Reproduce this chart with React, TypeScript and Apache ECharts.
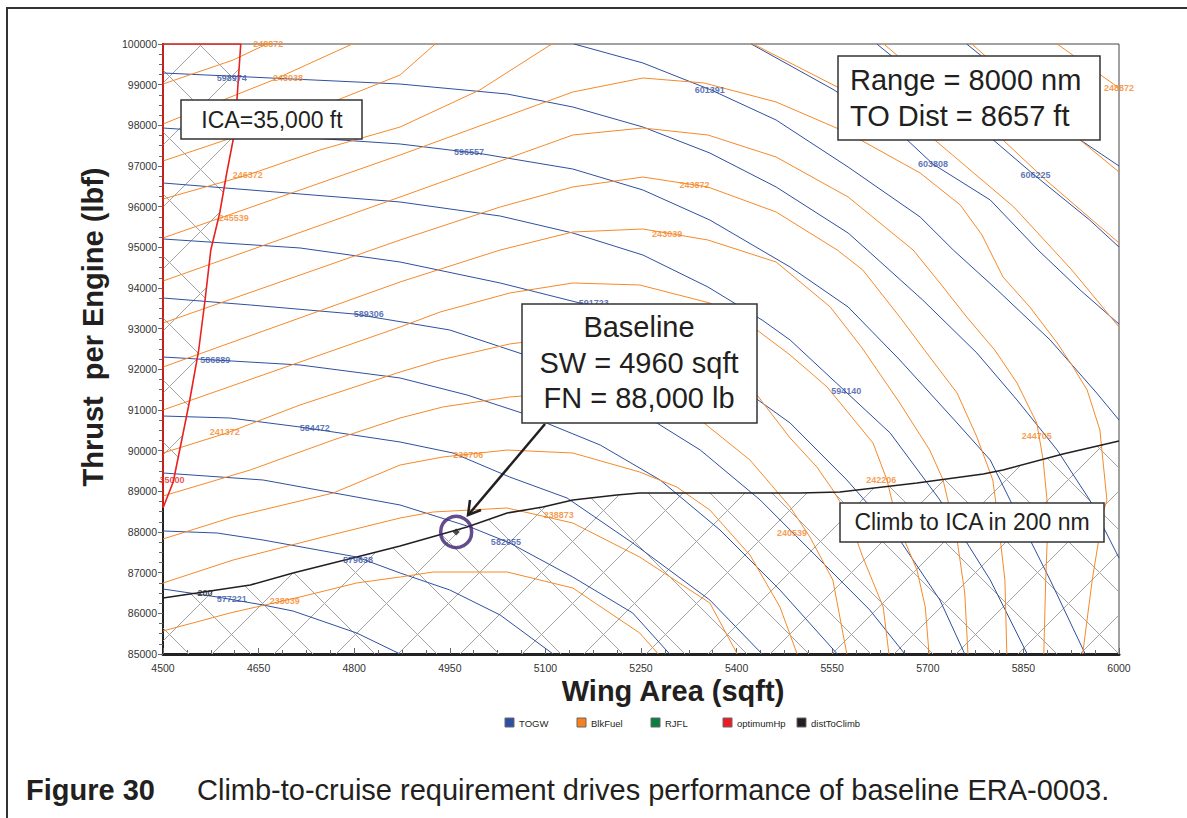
import React, { useEffect, useRef } from 'react';
import * as echarts from 'echarts';

const FONT = "'Liberation Sans', Arial, Helvetica, sans-serif";
const BLUE = '#2f4f9f';
const ORANGE = '#f58a2a';
const RED = '#e8231f';
const BLACK = '#231f20';
const HATCH = '#a3a3a3';

// Axes
const xMin = 4500, xMax = 6000, xStep = 150;
const yMin = 85000, yMax = 100000, yStep = 1000;

// Baseline design point
const baselineSW = 4960;
const baselineFN = 88000;

// TOGW contours [wing area, thrust]
const togw577221 = [[4500,86598],[4585,86402],[4657,86205],[4704,86057],[4804,85516],[4872,85000]];
const togw579638 = [[4500,88025],[4585,87975],[4657,87803],[4804,87385],[4872,86992],[4950,86574],[5029,85959],[5112,85000]];
const togw582055 = [[4500,89451],[4657,89279],[4872,88664],[4982,88123],[5044,87730],[5143,86893],[5237,86008],[5295,85000]];
const togw584472 = [[4500,90852],[4605,90803],[4715,90582],[4872,90213],[4955,89943],[5044,89352],[5134,88836],[5237,87730],[5358,86328],[5440,85000]];
const togw586889 = [[4500,92303],[4715,92107],[4872,91787],[4977,91369],[5063,90926],[5186,90139],[5280,89279],[5374,88049],[5468,86574],[5558,85000]];
const togw589306 = [[4500,93754],[4637,93582],[4800,93361],[4950,92967],[5092,92230],[5217,91246],[5343,90016],[5437,88787],[5531,87311],[5609,86082],[5664,85000]];
const togw591723 = [[4500,95205],[4715,94984],[4872,94639],[5029,94123],[5154,93631],[5280,92844],[5390,91738],[5484,90680],[5573,89279],[5656,87803],[5719,86328],[5758,85000]];
const togw594140 = [[4500,96582],[4872,96115],[5029,95770],[5143,95352],[5253,94811],[5355,94025],[5440,93213],[5484,92721],[5570,91467],[5641,90434],[5719,88787],[5798,86820],[5856,85000]];
const togw596557 = [[4500,97934],[4872,97541],[5002,97295],[5143,96926],[5253,96410],[5358,95672],[5484,94516],[5575,93533],[5656,92230],[5746,90680],[5798,89770],[5829,88787],[5892,86820],[5947,85000]];
const togw598974 = [[4500,99287],[4872,99016],[5040,98770],[5143,98451],[5253,97959],[5358,97320],[5462,96484],[5575,95352],[5605,94934],[5692,93705],[5777,92402],[5840,91246],[5903,90016],[5954,88787],[6000,87361]];
const togw601391 = [[5145,100000],[5253,99533],[5360,98869],[5462,98131],[5575,96975],[5688,95746],[5740,94934],[5809,93951],[5892,92721],[5965,91418],[6000,90754]];
const togw603808 = [[5423,100000],[5553,98869],[5666,97664],[5708,97049],[5798,96164],[5873,94934],[5939,93951],[6000,93115]];
const togw606225 = [[5620,100000],[5719,98746],[5801,97664],[5867,96779],[5954,95672],[6000,95008]];
const togw608642 = [[5761,100000],[5860,98746],[5937,97664],[6000,97000]];

// Block fuel contours
const fuel238039 = [[4500,85566],[4605,86008],[4715,86402],[4804,86746],[4872,86893],[4924,87016],[5040,87016],[5143,86623],[5248,85516],[5277,85000]];
const fuel238873 = [[4500,86746],[4610,87311],[4751,87877],[4872,88344],[4924,88492],[5040,88590],[5143,88221],[5248,87385],[5358,86254],[5401,85000]];
const fuel239706 = [[4500,87828],[4610,88369],[4767,88959],[4872,89647],[4939,89844],[5040,90016],[5143,89943],[5248,89475],[5306,89107],[5358,88541],[5421,87434],[5468,86156],[5495,85000]];
const fuel240539 = [[4500,88885],[4637,89525],[4767,90262],[4872,90803],[4939,91074],[5044,91320],[5143,91443],[5248,91295],[5343,90754],[5421,89770],[5484,88615],[5515,87877],[5551,86820],[5573,85000]];
const fuel241372 = [[4500,89943],[4600,90434],[4715,91123],[4872,91934],[4935,92230],[5044,92623],[5154,92844],[5264,92721],[5374,92107],[5432,91369],[5484,90311],[5526,89598],[5551,89033],[5573,88467],[5598,87385],[5630,86156],[5639,85000]];
const fuel242206 = [[4500,91000],[4715,92180],[4872,93041],[4935,93410],[5044,93877],[5143,94123],[5248,94074],[5358,93631],[5432,92967],[5484,92352],[5542,91566],[5614,90189],[5636,89279],[5652,88221],[5683,87065],[5696,86156],[5702,85000]];
const fuel243039 = [[4500,92057],[4872,94148],[5029,94934],[5143,95377],[5253,95451],[5355,95180],[5462,94639],[5547,93533],[5597,92524],[5656,91172],[5703,90016],[5724,89279],[5746,87803],[5758,86500],[5763,85000]];
const fuel243872 = [[4500,93139],[4872,95180],[5029,95992],[5143,96484],[5253,96729],[5355,96484],[5462,95869],[5558,94934],[5598,94443],[5656,93287],[5703,92303],[5746,91418],[5777,90336],[5802,89279],[5809,88467],[5821,86820],[5824,85000]];
const fuel244705 = [[4500,94172],[4872,96238],[5143,97762],[5253,97934],[5355,97762],[5462,97221],[5575,96238],[5677,94934],[5719,94123],[5761,93287],[5805,92475],[5840,91664],[5871,90680],[5881,89770],[5889,88467],[5885,86820],[5882,85000]];
const fuel245539 = [[4500,95230],[4872,97270],[5143,98820],[5253,99164],[5349,99041],[5462,98574],[5575,97811],[5688,96828],[5751,96041],[5785,95303],[5818,94271],[5860,93533],[5903,92648],[5928,92057],[5950,91492],[5970,90508],[5981,88787],[5975,88467],[5958,86820],[5943,85000]];
const fuel246372 = [[4500,96188],[4633,96779],[4746,97393],[4872,97959],[4997,98869],[5110,100000],[5264,100590],[5426,100000],[5558,98943],[5625,98254],[5711,97639],[5835,95992],[5926,94443],[6000,93041]];
const fuel247205 = [[4500,97123],[4715,98254],[4872,99238],[4927,100000],[5280,101574],[5631,100000],[5734,98623],[5818,97639],[5885,96656],[6000,95107]];
const fuel248038 = [[4500,98033],[4673,99115],[4797,100000],[5280,103049],[5769,100000],[5860,98746],[5939,97639],[6000,96852]];
const fuel248872 = [[4500,99016],[4610,99606],[4663,100000],[5288,104427],[5903,100000],[6000,98918]];

// optimumHp (35000 ft) boundary
const optimumHp35000 = [[4500,88590],[4516,89230],[4531,90385],[4542,91246],[4556,92475],[4566,93705],[4575,94934],[4589,95844],[4600,96828],[4610,97639],[4616,98623],[4622,100000],[4500,100000],[4500,88590]];

// distToClimb = 200 nm
const distToClimb200 = [[4500,86377],[4553,86500],[4637,86697],[4704,86992],[4804,87385],[4872,87656],[4977,88123],[5040,88467],[5096,88615],[5143,88787],[5212,88910],[5248,88959],[5499,88959],[5562,88984],[5683,89205],[5787,89426],[5818,89525],[5912,89918],[6000,90238]];

// Contour labels
const togwLabels = [
  { name: '598974', value: [4608, 99164] },
  { name: '596557', value: [4980, 97344] },
  { name: '601391', value: [5358, 98869] },
  { name: '603808', value: [5708, 97049] },
  { name: '606225', value: [5869, 96779] },
  { name: '591723', value: [5176, 93631] },
  { name: '589306', value: [4823, 93361] },
  { name: '586889', value: [4582, 92230] },
  { name: '584472', value: [4738, 90558] },
  { name: '594140', value: [5572, 91467] },
  { name: '582055', value: [5038, 87754] },
  { name: '579638', value: [4806, 87311] },
  { name: '577221', value: [4608, 86352] },
];
const fuelLabels = [
  { name: '248872', value: [4665, 100000] },
  { name: '248872', value: [6000, 98918] },
  { name: '248038', value: [4696, 99164] },
  { name: '246372', value: [4633, 96779] },
  { name: '245539', value: [4611, 95721] },
  { name: '243872', value: [5334, 96533] },
  { name: '243039', value: [5291, 95328] },
  { name: '241372', value: [4597, 90459] },
  { name: '239706', value: [4979, 89893] },
  { name: '238873', value: [5121, 88418] },
  { name: '238039', value: [4691, 86303] },
  { name: '240539', value: [5487, 87975] },
  { name: '242206', value: [5627, 89279] },
  { name: '244705', value: [5871, 90361] },
];
const hpLabels = [{ name: '35000', value: [4514, 89279] }];
const climbLabels = [{ name: '200', value: [4566, 86500] }];

const togwSeries: [string, number[][]][] = [
  ['577221', togw577221], ['579638', togw579638], ['582055', togw582055], ['584472', togw584472],
  ['586889', togw586889], ['589306', togw589306], ['591723', togw591723], ['594140', togw594140],
  ['596557', togw596557], ['598974', togw598974], ['601391', togw601391], ['603808', togw603808],
  ['606225', togw606225], ['608642', togw608642],
];
const fuelSeries: [string, number[][]][] = [
  ['238039', fuel238039], ['238873', fuel238873], ['239706', fuel239706], ['240539', fuel240539],
  ['241372', fuel241372], ['242206', fuel242206], ['243039', fuel243039], ['243872', fuel243872],
  ['244705', fuel244705], ['245539', fuel245539], ['246372', fuel246372], ['247205', fuel247205],
  ['248038', fuel248038], ['248872', fuel248872],
];

const legendItems = [
  { name: 'TOGW', color: '#2c4fa5', x: 505 },
  { name: 'BlkFuel', color: '#f5821f', x: 577 },
  { name: 'RJFL', color: '#0a7f3f', x: 651 },
  { name: 'optimumHp', color: '#ed1c24', x: 723 },
  { name: 'distToClimb', color: '#231f20', x: 797 },
];

function hatchInto(poly: number[][], out: any[]) {
  const fams = [[1, 1, -2], [1, -1, 31]];
  const sp = 62;
  for (const [a, b, off] of fams) {
    let lo = Infinity, hi = -Infinity;
    for (const p of poly) {
      const v = a * p[0] + b * p[1];
      lo = Math.min(lo, v); hi = Math.max(hi, v);
    }
    const k0 = Math.ceil((lo - off) / sp), k1 = Math.floor((hi - off) / sp);
    for (let k = k0; k <= k1; k++) {
      const c = off + sp * k + 0.01;
      const pts: number[][] = [];
      for (let i = 0; i < poly.length; i++) {
        const p1 = poly[i], p2 = poly[(i + 1) % poly.length];
        const f1 = a * p1[0] + b * p1[1] - c, f2 = a * p2[0] + b * p2[1] - c;
        if ((f1 < 0) !== (f2 < 0)) {
          const s = f1 / (f1 - f2);
          pts.push([p1[0] + s * (p2[0] - p1[0]), p1[1] + s * (p2[1] - p1[1])]);
        }
      }
      pts.sort((u, v) => u[0] - v[0]);
      for (let i = 0; i + 1 < pts.length; i += 2) {
        out.push({
          type: 'line',
          shape: { x1: pts[i][0], y1: pts[i][1], x2: pts[i + 1][0], y2: pts[i + 1][1] },
          style: { stroke: HATCH, lineWidth: 1 },
        });
      }
    }
  }
}

function labelSeries(data: any[], color: string, size: number) {
  return {
    type: 'scatter',
    data,
    symbolSize: 0.1,
    itemStyle: { color: 'rgba(0,0,0,0)' },
    z: 5,
    silent: true,
    label: {
      show: true,
      position: 'inside',
      formatter: '{b}',
      color,
      fontSize: size,
      fontWeight: 'bold',
      fontFamily: FONT,
    },
  };
}

function box(x: number, y: number, w: number, h: number) {
  return {
    type: 'rect',
    z: 50,
    shape: { x, y, width: w, height: h },
    style: { fill: '#fff', stroke: '#333', lineWidth: 1.5 },
  };
}
function txt(x: number, y: number, text: string, size: number, align = 'center', weight = 'normal', rot = 0) {
  return {
    type: 'text',
    z: 51,
    x, y, rotation: rot,
    style: {
      text, x: 0, y: 0, fill: BLACK, font: `${weight} ${size}px ${FONT}`,
      textAlign: align, textVerticalAlign: 'middle',
    },
  };
}

export default function App() {
  const ref = useRef<HTMLDivElement>(null);
  useEffect(() => {
    const chart = echarts.init(ref.current!, null, { renderer: 'svg' });

    const series: any[] = [];
    series.push({
      type: 'custom',
      z: 1,
      silent: true,
      data: [[xMin, yMin]],
      renderItem: (_p: any, api: any) => {
        const children: any[] = [];
        const polyA = optimumHp35000.slice(0, -1).map((p) => api.coord(p));
        const polyB = distToClimb200.concat([[xMax, yMin], [xMin, yMin]]).map((p) => api.coord(p));
        hatchInto(polyA, children);
        hatchInto(polyB, children);
        return { type: 'group', children };
      },
    });
    togwSeries.forEach(([n, d]) => series.push({
      name: 'TOGW ' + n, type: 'line', data: d, symbol: 'none', z: 3, silent: true,
      lineStyle: { color: BLUE, width: 1 },
    }));
    fuelSeries.forEach(([n, d]) => series.push({
      name: 'BlkFuel ' + n, type: 'line', data: d, symbol: 'none', z: 3, silent: true,
      lineStyle: { color: ORANGE, width: 1 },
    }));
    series.push({
      name: 'optimumHp', type: 'line', data: optimumHp35000, symbol: 'none', z: 4, silent: true,
      lineStyle: { color: RED, width: 1.6 },
    });
    series.push({
      name: 'distToClimb', type: 'line', data: distToClimb200, symbol: 'none', z: 4, silent: true,
      lineStyle: { color: BLACK, width: 1.5 },
    });
    series.push(labelSeries(togwLabels, '#3452a4', 9));
    series.push(labelSeries(fuelLabels, '#f5841f', 9));
    series.push(labelSeries(hpLabels, RED, 9));
    series.push(labelSeries(climbLabels, BLACK, 9));
    series.push({
      type: 'scatter', z: 6, silent: true,
      data: [
        { value: [baselineSW, baselineFN], symbol: 'circle', symbolSize: 31,
          itemStyle: { color: 'rgba(0,0,0,0)', borderColor: '#3d2170', borderWidth: 3.5 } },
        { value: [baselineSW, baselineFN], symbol: 'diamond', symbolSize: 7, itemStyle: { color: '#222' } },
      ],
    });

    const graphic: any[] = [
      { type: 'rect', z: 0, shape: { x: 7, y: 8, width: 1200, height: 840 }, style: { fill: 'none', stroke: '#333', lineWidth: 2 } },
      box(181, 100, 181, 39), txt(272, 120, 'ICA=35,000 ft', 23),
      box(838, 56, 262, 84), txt(850, 80, 'Range = 8000 nm', 29, 'left'), txt(850, 116, 'TO Dist = 8657 ft', 29, 'left'),
      box(522, 304, 235, 119), txt(639, 327, 'Baseline', 29), txt(639, 363, 'SW = 4960 sqft', 29), txt(639, 398, 'FN = 88,000 lb', 29),
      box(840, 503, 264, 39), txt(972, 522, 'Climb to ICA in 200 nm', 23),
      { type: 'line', z: 52, shape: { x1: 545, y1: 424, x2: 469, y2: 514 }, style: { stroke: BLACK, lineWidth: 2.5 } },
      { type: 'polyline', z: 52, shape: { points: [[470, 500], [468, 515], [481, 510]] }, style: { stroke: BLACK, lineWidth: 2.5, fill: 'none' } },
      txt(93, 327, 'Thrust  per Engine (lbf)', 29, 'center', 'bold', Math.PI / 2),
      txt(673, 691, 'Wing Area (sqft)', 29, 'center', 'bold'),
      txt(26, 790, 'Figure 30', 29, 'left', 'bold'),
      txt(197, 790, 'Climb-to-cruise requirement drives performance of baseline ERA-0003.', 29, 'left'),
    ];
    legendItems.forEach((it) => {
      graphic.push({ type: 'rect', z: 52, shape: { x: it.x, y: 718, width: 9, height: 9 }, style: { fill: it.color, stroke: '#666', lineWidth: 1 } });
      graphic.push(txt(it.x + 14, 723, it.name, 9.5, 'left'));
    });

    chart.setOption({
      animation: false,
      textStyle: { fontFamily: FONT },
      grid: { left: 163, top: 44, width: 956, height: 610, show: true, borderColor: '#444', borderWidth: 1 },
      xAxis: {
        type: 'value', min: xMin, max: xMax, interval: xStep,
        axisLine: { show: true, lineStyle: { color: '#222', width: 3 } },
        axisTick: { show: true, inside: true, length: 6, lineStyle: { color: '#666' } },
        minorTick: { show: true, splitNumber: 4, length: 4, lineStyle: { color: '#666' } },
        axisLabel: { formatter: (v: number) => String(v), color: '#333', fontSize: 10.5, margin: 8, fontFamily: FONT },
        splitLine: { show: false },
      },
      yAxis: {
        type: 'value', min: yMin, max: yMax, interval: yStep,
        axisLine: { show: true, lineStyle: { color: '#222', width: 2 } },
        axisTick: { show: true, inside: false, length: 5, lineStyle: { color: '#666' } },
        minorTick: { show: true, splitNumber: 4, length: 4, lineStyle: { color: '#666' } },
        axisLabel: { formatter: (v: number) => String(v), color: '#333', fontSize: 10.5, margin: 6, fontFamily: FONT },
        splitLine: { show: false },
      },
      graphic,
      series,
    });
    return () => chart.dispose();
  }, []);
  return <div ref={ref} style={{ position: 'fixed', left: 0, top: 0, width: 1187, height: 818, background: '#fff' }} />;
}
